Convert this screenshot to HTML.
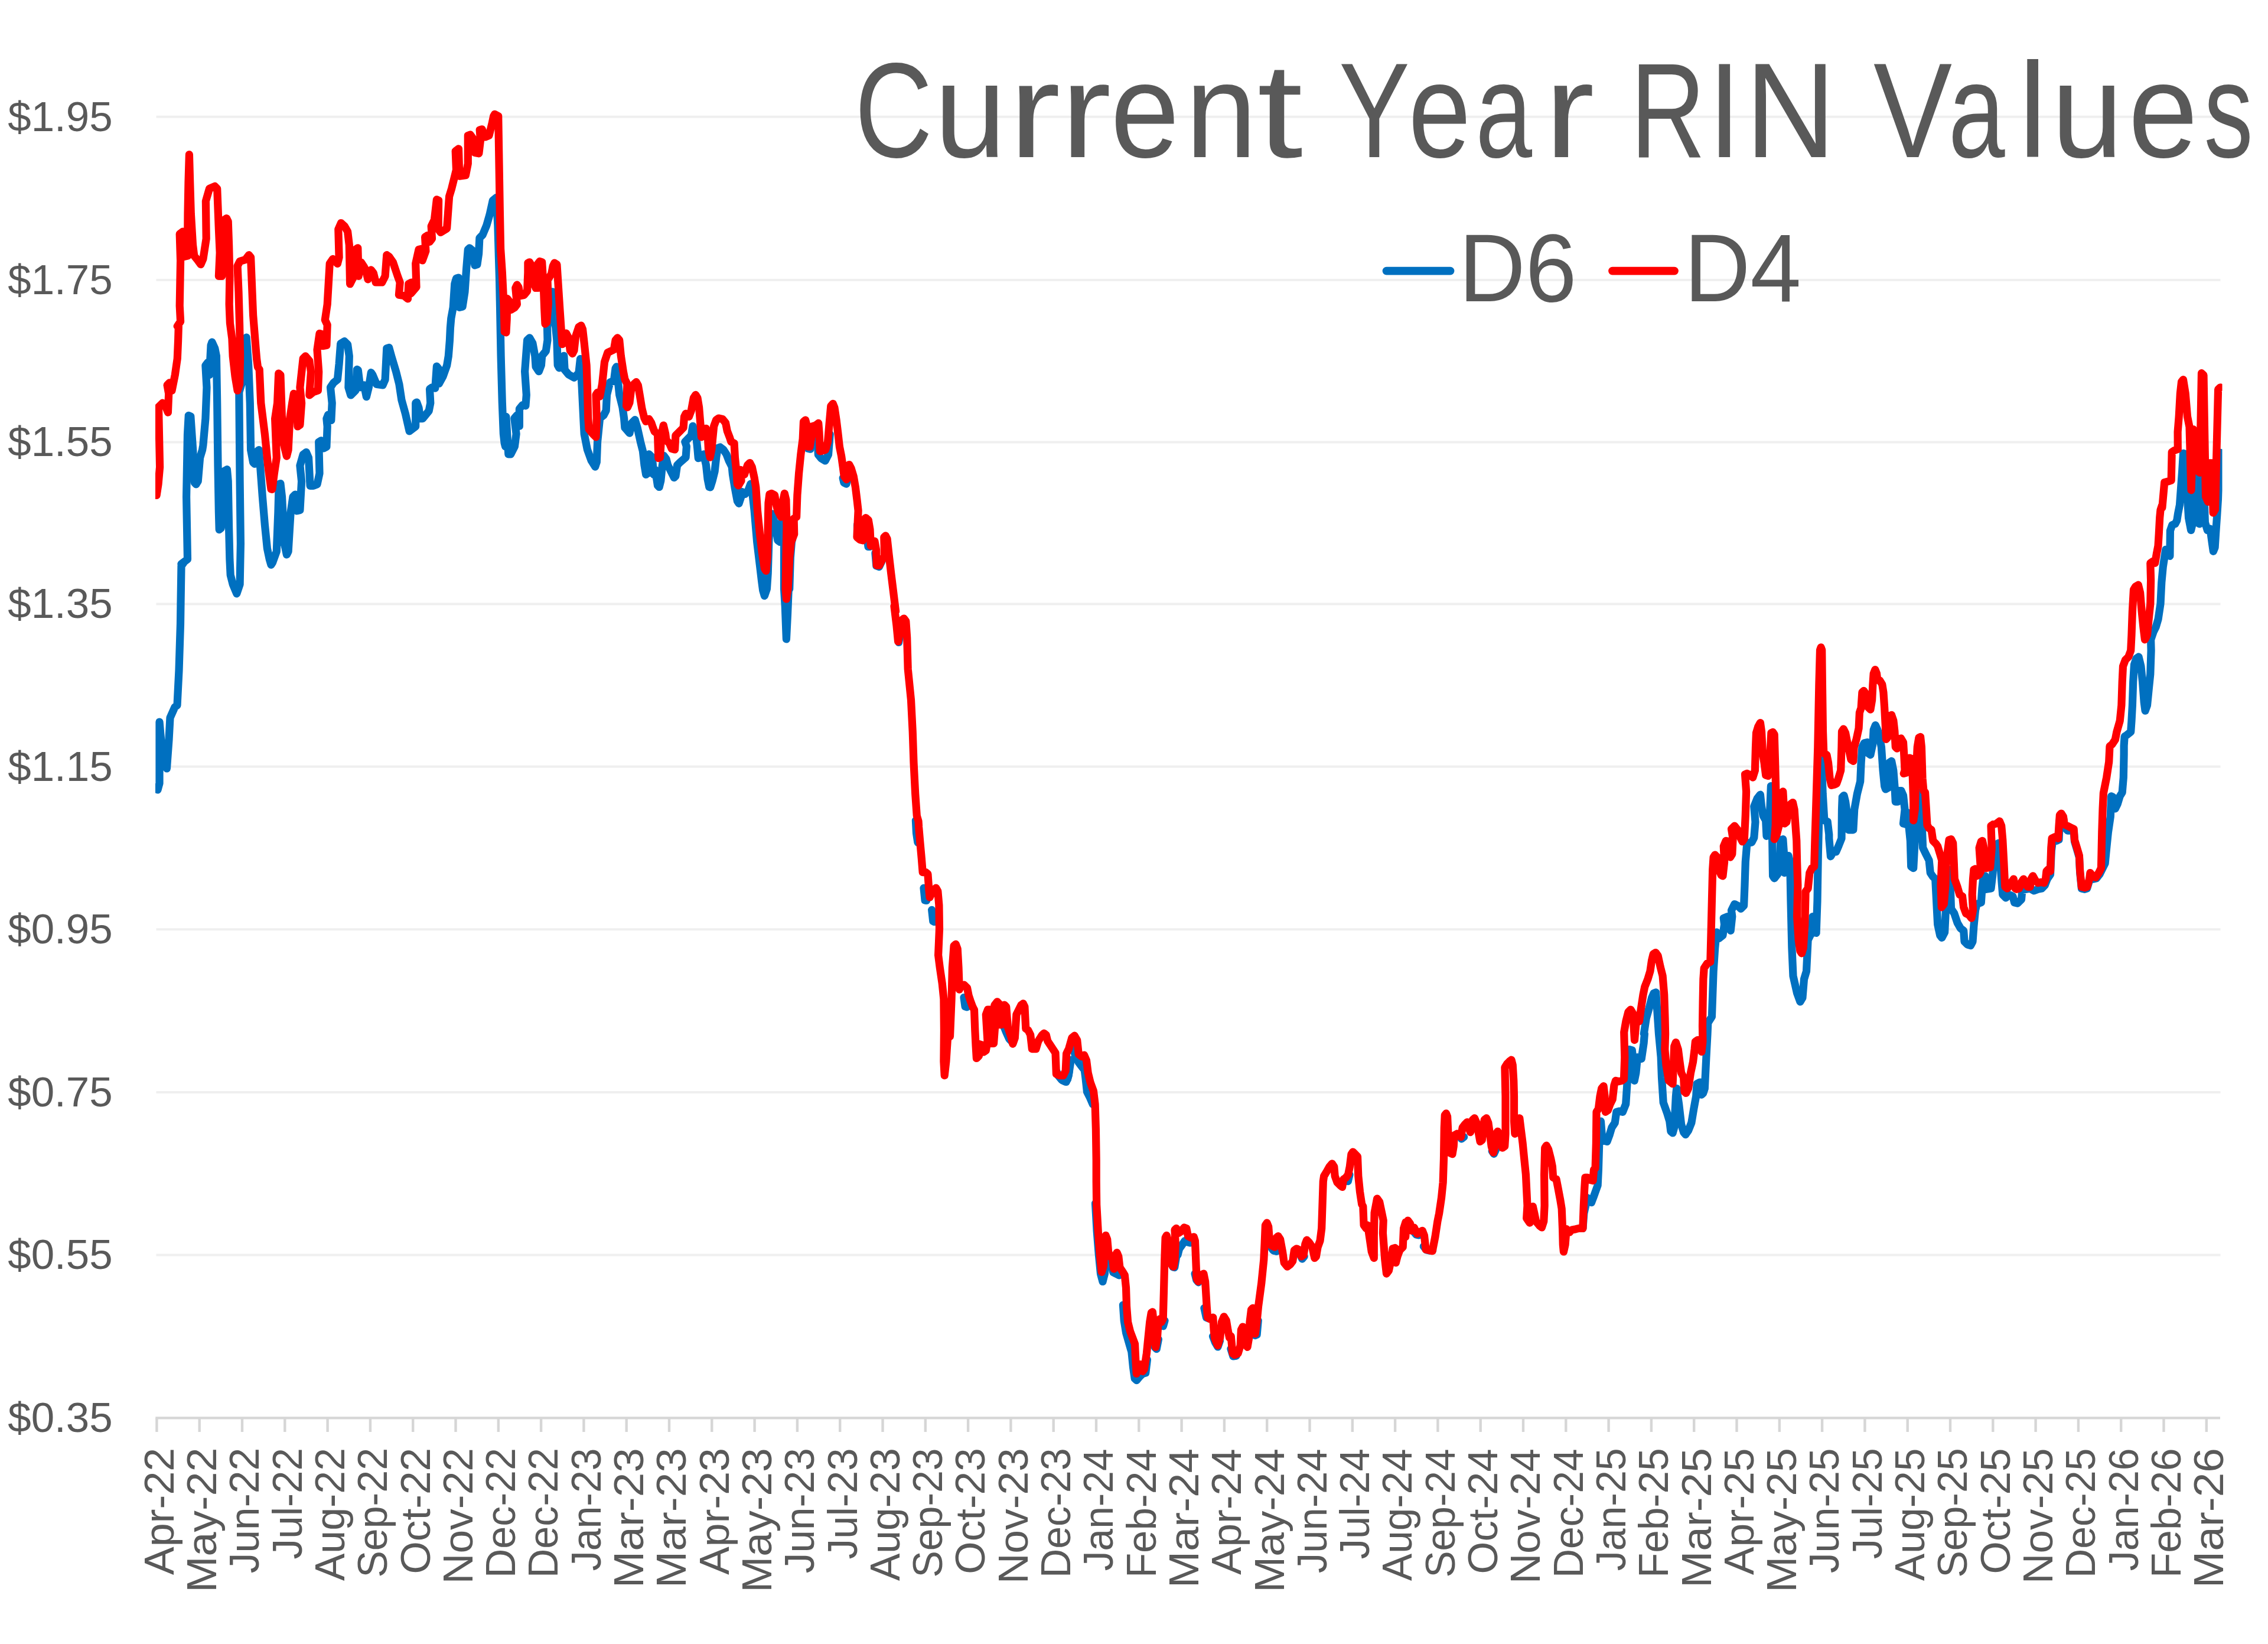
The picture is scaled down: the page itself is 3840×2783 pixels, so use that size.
<!DOCTYPE html><html><head><meta charset="utf-8"><title>Current Year RIN Values</title>
<style>html,body{margin:0;padding:0;background:#fff}svg{display:block}text{font-family:"Liberation Sans",sans-serif;fill:#595959}</style></head><body>
<svg width="3840" height="2783" viewBox="0 0 3840 2783">
<rect width="3840" height="2783" fill="#fff"/>
<line x1="264.5" x2="3759.5" y1="197.7" y2="197.7" stroke="#efefef" stroke-width="3.9"/>
<line x1="264.5" x2="3759.5" y1="474.0" y2="474.0" stroke="#efefef" stroke-width="3.9"/>
<line x1="264.5" x2="3759.5" y1="748.5" y2="748.5" stroke="#efefef" stroke-width="3.9"/>
<line x1="264.5" x2="3759.5" y1="1022.5" y2="1022.5" stroke="#efefef" stroke-width="3.9"/>
<line x1="264.5" x2="3759.5" y1="1297.7" y2="1297.7" stroke="#efefef" stroke-width="3.9"/>
<line x1="264.5" x2="3759.5" y1="1573.2" y2="1573.2" stroke="#efefef" stroke-width="3.9"/>
<line x1="264.5" x2="3759.5" y1="1849.0" y2="1849.0" stroke="#efefef" stroke-width="3.9"/>
<line x1="264.5" x2="3759.5" y1="2124.5" y2="2124.5" stroke="#efefef" stroke-width="3.9"/>
<text transform="translate(1447.30,266.00) scale(0.7996,1)" font-size="228">C</text>
<text transform="translate(1582.24,266.00) scale(0.9556,1)" font-size="228">u</text>
<text transform="translate(1708.21,266.00) scale(1.1491,1)" font-size="228">r</text>
<text transform="translate(1795.72,266.00) scale(1.1281,1)" font-size="228">r</text>
<text transform="translate(1880.20,266.00) scale(0.9192,1)" font-size="228">e</text>
<text transform="translate(2007.02,266.00) scale(0.9556,1)" font-size="228">n</text>
<text transform="translate(2128.63,266.00) scale(1.2198,1)" font-size="228">t</text>
<text transform="translate(2267.04,266.00) scale(0.7885,1)" font-size="228">Y</text>
<text transform="translate(2384.61,266.00) scale(0.8343,1)" font-size="228">e</text>
<text transform="translate(2498.27,266.00) scale(0.7552,1)" font-size="228">a</text>
<text transform="translate(2615.04,266.00) scale(1.1140,1)" font-size="228">r</text>
<text transform="translate(2760.58,266.00) scale(0.7714,1)" font-size="228">R</text>
<text transform="translate(2892.10,266.00) scale(0.8772,1)" font-size="228">I</text>
<text transform="translate(2954.93,266.00) scale(0.9290,1)" font-size="228">N</text>
<text transform="translate(3172.00,266.00) scale(0.8759,1)" font-size="228">V</text>
<text transform="translate(3298.76,266.00) scale(0.7560,1)" font-size="228">a</text>
<text transform="translate(3418.06,266.00) scale(0.9320,1)" font-size="228">l</text>
<text transform="translate(3473.55,266.00) scale(0.9546,1)" font-size="228">u</text>
<text transform="translate(3603.61,266.00) scale(0.9285,1)" font-size="228">e</text>
<text transform="translate(3731.54,266.00) scale(0.7303,1)" font-size="228">s</text>
<line x1="2347.5" x2="2455.5" y1="458.6" y2="458.6" stroke="#0070c0" stroke-width="13.8" stroke-linecap="round"/>
<text transform="translate(2469.89,510.00) scale(0.9551,1)" font-size="163.5">D6</text>
<line x1="2730" x2="2835" y1="458.6" y2="458.6" stroke="#ff0000" stroke-width="13.8" stroke-linecap="round"/>
<text transform="translate(2851.71,510.00) scale(0.9465,1)" font-size="163.5">D4</text>
<line x1="263.3" x2="3759" y1="2400.4" y2="2400.4" stroke="#d6d6d6" stroke-width="4.4"/>
<line x1="265.4" x2="265.4" y1="2400.4" y2="2424.0" stroke="#d6d6d6" stroke-width="4.4"/>
<line x1="337.7" x2="337.7" y1="2400.4" y2="2424.0" stroke="#d6d6d6" stroke-width="4.4"/>
<line x1="410.0" x2="410.0" y1="2400.4" y2="2424.0" stroke="#d6d6d6" stroke-width="4.4"/>
<line x1="482.3" x2="482.3" y1="2400.4" y2="2424.0" stroke="#d6d6d6" stroke-width="4.4"/>
<line x1="554.6" x2="554.6" y1="2400.4" y2="2424.0" stroke="#d6d6d6" stroke-width="4.4"/>
<line x1="626.9" x2="626.9" y1="2400.4" y2="2424.0" stroke="#d6d6d6" stroke-width="4.4"/>
<line x1="699.2" x2="699.2" y1="2400.4" y2="2424.0" stroke="#d6d6d6" stroke-width="4.4"/>
<line x1="771.5" x2="771.5" y1="2400.4" y2="2424.0" stroke="#d6d6d6" stroke-width="4.4"/>
<line x1="843.8" x2="843.8" y1="2400.4" y2="2424.0" stroke="#d6d6d6" stroke-width="4.4"/>
<line x1="916.1" x2="916.1" y1="2400.4" y2="2424.0" stroke="#d6d6d6" stroke-width="4.4"/>
<line x1="988.4" x2="988.4" y1="2400.4" y2="2424.0" stroke="#d6d6d6" stroke-width="4.4"/>
<line x1="1060.7" x2="1060.7" y1="2400.4" y2="2424.0" stroke="#d6d6d6" stroke-width="4.4"/>
<line x1="1133.0" x2="1133.0" y1="2400.4" y2="2424.0" stroke="#d6d6d6" stroke-width="4.4"/>
<line x1="1205.3" x2="1205.3" y1="2400.4" y2="2424.0" stroke="#d6d6d6" stroke-width="4.4"/>
<line x1="1277.6" x2="1277.6" y1="2400.4" y2="2424.0" stroke="#d6d6d6" stroke-width="4.4"/>
<line x1="1349.9" x2="1349.9" y1="2400.4" y2="2424.0" stroke="#d6d6d6" stroke-width="4.4"/>
<line x1="1422.2" x2="1422.2" y1="2400.4" y2="2424.0" stroke="#d6d6d6" stroke-width="4.4"/>
<line x1="1494.5" x2="1494.5" y1="2400.4" y2="2424.0" stroke="#d6d6d6" stroke-width="4.4"/>
<line x1="1566.8" x2="1566.8" y1="2400.4" y2="2424.0" stroke="#d6d6d6" stroke-width="4.4"/>
<line x1="1639.1" x2="1639.1" y1="2400.4" y2="2424.0" stroke="#d6d6d6" stroke-width="4.4"/>
<line x1="1711.4" x2="1711.4" y1="2400.4" y2="2424.0" stroke="#d6d6d6" stroke-width="4.4"/>
<line x1="1783.7" x2="1783.7" y1="2400.4" y2="2424.0" stroke="#d6d6d6" stroke-width="4.4"/>
<line x1="1856.0" x2="1856.0" y1="2400.4" y2="2424.0" stroke="#d6d6d6" stroke-width="4.4"/>
<line x1="1928.3" x2="1928.3" y1="2400.4" y2="2424.0" stroke="#d6d6d6" stroke-width="4.4"/>
<line x1="2000.6" x2="2000.6" y1="2400.4" y2="2424.0" stroke="#d6d6d6" stroke-width="4.4"/>
<line x1="2072.9" x2="2072.9" y1="2400.4" y2="2424.0" stroke="#d6d6d6" stroke-width="4.4"/>
<line x1="2145.2" x2="2145.2" y1="2400.4" y2="2424.0" stroke="#d6d6d6" stroke-width="4.4"/>
<line x1="2217.5" x2="2217.5" y1="2400.4" y2="2424.0" stroke="#d6d6d6" stroke-width="4.4"/>
<line x1="2289.8" x2="2289.8" y1="2400.4" y2="2424.0" stroke="#d6d6d6" stroke-width="4.4"/>
<line x1="2362.1" x2="2362.1" y1="2400.4" y2="2424.0" stroke="#d6d6d6" stroke-width="4.4"/>
<line x1="2434.4" x2="2434.4" y1="2400.4" y2="2424.0" stroke="#d6d6d6" stroke-width="4.4"/>
<line x1="2506.7" x2="2506.7" y1="2400.4" y2="2424.0" stroke="#d6d6d6" stroke-width="4.4"/>
<line x1="2579.0" x2="2579.0" y1="2400.4" y2="2424.0" stroke="#d6d6d6" stroke-width="4.4"/>
<line x1="2651.3" x2="2651.3" y1="2400.4" y2="2424.0" stroke="#d6d6d6" stroke-width="4.4"/>
<line x1="2723.6" x2="2723.6" y1="2400.4" y2="2424.0" stroke="#d6d6d6" stroke-width="4.4"/>
<line x1="2795.9" x2="2795.9" y1="2400.4" y2="2424.0" stroke="#d6d6d6" stroke-width="4.4"/>
<line x1="2868.2" x2="2868.2" y1="2400.4" y2="2424.0" stroke="#d6d6d6" stroke-width="4.4"/>
<line x1="2940.5" x2="2940.5" y1="2400.4" y2="2424.0" stroke="#d6d6d6" stroke-width="4.4"/>
<line x1="3012.8" x2="3012.8" y1="2400.4" y2="2424.0" stroke="#d6d6d6" stroke-width="4.4"/>
<line x1="3085.1" x2="3085.1" y1="2400.4" y2="2424.0" stroke="#d6d6d6" stroke-width="4.4"/>
<line x1="3157.4" x2="3157.4" y1="2400.4" y2="2424.0" stroke="#d6d6d6" stroke-width="4.4"/>
<line x1="3229.7" x2="3229.7" y1="2400.4" y2="2424.0" stroke="#d6d6d6" stroke-width="4.4"/>
<line x1="3302.0" x2="3302.0" y1="2400.4" y2="2424.0" stroke="#d6d6d6" stroke-width="4.4"/>
<line x1="3374.3" x2="3374.3" y1="2400.4" y2="2424.0" stroke="#d6d6d6" stroke-width="4.4"/>
<line x1="3446.6" x2="3446.6" y1="2400.4" y2="2424.0" stroke="#d6d6d6" stroke-width="4.4"/>
<line x1="3518.9" x2="3518.9" y1="2400.4" y2="2424.0" stroke="#d6d6d6" stroke-width="4.4"/>
<line x1="3591.2" x2="3591.2" y1="2400.4" y2="2424.0" stroke="#d6d6d6" stroke-width="4.4"/>
<line x1="3663.5" x2="3663.5" y1="2400.4" y2="2424.0" stroke="#d6d6d6" stroke-width="4.4"/>
<line x1="3735.8" x2="3735.8" y1="2400.4" y2="2424.0" stroke="#d6d6d6" stroke-width="4.4"/>
<text transform="translate(13.22,221.50) scale(1.0132,1)" font-size="70">$1.95</text>
<text transform="translate(13.22,497.80) scale(1.0132,1)" font-size="70">$1.75</text>
<text transform="translate(13.22,772.30) scale(1.0132,1)" font-size="70">$1.55</text>
<text transform="translate(13.22,1046.30) scale(1.0132,1)" font-size="70">$1.35</text>
<text transform="translate(13.22,1321.50) scale(1.0132,1)" font-size="70">$1.15</text>
<text transform="translate(13.22,1597.00) scale(1.0132,1)" font-size="70">$0.95</text>
<text transform="translate(13.22,1872.80) scale(1.0132,1)" font-size="70">$0.75</text>
<text transform="translate(13.22,2148.30) scale(1.0132,1)" font-size="70">$0.55</text>
<text transform="translate(13.22,2424.20) scale(1.0132,1)" font-size="70">$0.35</text>
<text transform="translate(293.7,2450.8) rotate(-90) scale(1.0250,1)" text-anchor="end" font-size="70">Apr-22</text>
<text transform="translate(366.0,2450.7) rotate(-90) scale(1.0502,1)" text-anchor="end" font-size="70">May-22</text>
<text transform="translate(438.3,2450.9) rotate(-90) scale(0.9920,1)" text-anchor="end" font-size="70">Jun-22</text>
<text transform="translate(510.6,2451.0) rotate(-90) scale(0.9884,1)" text-anchor="end" font-size="70">Jul-22</text>
<text transform="translate(582.9,2450.9) rotate(-90) scale(0.9985,1)" text-anchor="end" font-size="70">Aug-22</text>
<text transform="translate(655.2,2451.0) rotate(-90) scale(0.9728,1)" text-anchor="end" font-size="70">Sep-22</text>
<text transform="translate(727.5,2450.8) rotate(-90) scale(1.0178,1)" text-anchor="end" font-size="70">Oct-22</text>
<text transform="translate(799.8,2450.9) rotate(-90) scale(1.0206,1)" text-anchor="end" font-size="70">Nov-22</text>
<text transform="translate(872.1,2451.0) rotate(-90) scale(0.9749,1)" text-anchor="end" font-size="70">Dec-22</text>
<text transform="translate(944.4,2451.0) rotate(-90) scale(0.9749,1)" text-anchor="end" font-size="70">Dec-22</text>
<text transform="translate(1016.7,2451.4) rotate(-90) scale(0.9714,1)" text-anchor="end" font-size="70">Jan-23</text>
<text transform="translate(1089.0,2451.1) rotate(-90) scale(1.0692,1)" text-anchor="end" font-size="70">Mar-23</text>
<text transform="translate(1161.3,2451.1) rotate(-90) scale(1.0692,1)" text-anchor="end" font-size="70">Mar-23</text>
<text transform="translate(1233.6,2451.2) rotate(-90) scale(1.0230,1)" text-anchor="end" font-size="70">Apr-23</text>
<text transform="translate(1305.9,2451.1) rotate(-90) scale(1.0483,1)" text-anchor="end" font-size="70">May-23</text>
<text transform="translate(1378.2,2451.3) rotate(-90) scale(0.9900,1)" text-anchor="end" font-size="70">Jun-23</text>
<text transform="translate(1450.5,2451.4) rotate(-90) scale(0.9862,1)" text-anchor="end" font-size="70">Jul-23</text>
<text transform="translate(1522.8,2451.3) rotate(-90) scale(0.9966,1)" text-anchor="end" font-size="70">Aug-23</text>
<text transform="translate(1595.1,2451.4) rotate(-90) scale(0.9709,1)" text-anchor="end" font-size="70">Sep-23</text>
<text transform="translate(1667.4,2451.3) rotate(-90) scale(1.0157,1)" text-anchor="end" font-size="70">Oct-23</text>
<text transform="translate(1739.7,2451.3) rotate(-90) scale(1.0186,1)" text-anchor="end" font-size="70">Nov-23</text>
<text transform="translate(1812.0,2451.4) rotate(-90) scale(0.9730,1)" text-anchor="end" font-size="70">Dec-23</text>
<text transform="translate(1884.3,2452.4) rotate(-90) scale(0.9666,1)" text-anchor="end" font-size="70">Jan-24</text>
<text transform="translate(1956.6,2452.4) rotate(-90) scale(0.9860,1)" text-anchor="end" font-size="70">Feb-24</text>
<text transform="translate(2028.9,2452.2) rotate(-90) scale(1.0639,1)" text-anchor="end" font-size="70">Mar-24</text>
<text transform="translate(2101.2,2452.3) rotate(-90) scale(1.0178,1)" text-anchor="end" font-size="70">Apr-24</text>
<text transform="translate(2173.5,2452.2) rotate(-90) scale(1.0434,1)" text-anchor="end" font-size="70">May-24</text>
<text transform="translate(2245.8,2452.4) rotate(-90) scale(0.9851,1)" text-anchor="end" font-size="70">Jun-24</text>
<text transform="translate(2318.1,2452.4) rotate(-90) scale(0.9806,1)" text-anchor="end" font-size="70">Jul-24</text>
<text transform="translate(2390.4,2452.3) rotate(-90) scale(0.9919,1)" text-anchor="end" font-size="70">Aug-24</text>
<text transform="translate(2462.7,2452.4) rotate(-90) scale(0.9663,1)" text-anchor="end" font-size="70">Sep-24</text>
<text transform="translate(2535.0,2452.3) rotate(-90) scale(1.0105,1)" text-anchor="end" font-size="70">Oct-24</text>
<text transform="translate(2607.3,2452.4) rotate(-90) scale(1.0137,1)" text-anchor="end" font-size="70">Nov-24</text>
<text transform="translate(2679.6,2452.5) rotate(-90) scale(0.9683,1)" text-anchor="end" font-size="70">Dec-24</text>
<text transform="translate(2751.9,2451.5) rotate(-90) scale(0.9708,1)" text-anchor="end" font-size="70">Jan-25</text>
<text transform="translate(2824.2,2451.5) rotate(-90) scale(0.9902,1)" text-anchor="end" font-size="70">Feb-25</text>
<text transform="translate(2896.5,2451.2) rotate(-90) scale(1.0685,1)" text-anchor="end" font-size="70">Mar-25</text>
<text transform="translate(2968.8,2451.4) rotate(-90) scale(1.0223,1)" text-anchor="end" font-size="70">Apr-25</text>
<text transform="translate(3041.1,2451.3) rotate(-90) scale(1.0476,1)" text-anchor="end" font-size="70">May-25</text>
<text transform="translate(3113.4,2451.4) rotate(-90) scale(0.9894,1)" text-anchor="end" font-size="70">Jun-25</text>
<text transform="translate(3185.7,2451.5) rotate(-90) scale(0.9854,1)" text-anchor="end" font-size="70">Jul-25</text>
<text transform="translate(3258.0,2451.4) rotate(-90) scale(0.9960,1)" text-anchor="end" font-size="70">Aug-25</text>
<text transform="translate(3330.3,2451.5) rotate(-90) scale(0.9703,1)" text-anchor="end" font-size="70">Sep-25</text>
<text transform="translate(3402.6,2451.4) rotate(-90) scale(1.0150,1)" text-anchor="end" font-size="70">Oct-25</text>
<text transform="translate(3474.9,2451.4) rotate(-90) scale(1.0180,1)" text-anchor="end" font-size="70">Nov-25</text>
<text transform="translate(3547.2,2451.6) rotate(-90) scale(0.9724,1)" text-anchor="end" font-size="70">Dec-25</text>
<text transform="translate(3619.5,2451.4) rotate(-90) scale(0.9714,1)" text-anchor="end" font-size="70">Jan-26</text>
<text transform="translate(3691.8,2451.3) rotate(-90) scale(0.9909,1)" text-anchor="end" font-size="70">Feb-26</text>
<text transform="translate(3764.1,2451.1) rotate(-90) scale(1.0692,1)" text-anchor="end" font-size="70">Mar-26</text>
<clipPath id="pc"><rect x="263" y="0" width="3499.5" height="2402"/></clipPath><g clip-path="url(#pc)">
<polyline fill="none" stroke="#0070c0" stroke-width="13.2" stroke-linejoin="round" stroke-linecap="round" points="267.0,1337.0 270.0,1326.0 270.0,1222.0 276.0,1290.0 282.4,1301.0 286.0,1252.0 288.0,1215.0 296.0,1197.0 300.0,1194.0 303.0,1135.0 305.5,1056.0 306.0,1021.0 307.0,958.0 311.0,952.6 306.9,954.8 312.2,950.8 317.5,946.8 315.6,841.0 317.5,735.2 319.3,703.4 322.8,704.8 326.7,761.6 329.4,817.2 332.0,819.8 335.2,814.6 338.6,774.9 342.6,761.6 343.9,753.7 347.9,708.7 350.0,655.8 347.9,618.8 351.9,613.5 354.5,634.7 357.1,584.4 359.0,579.1 363.8,589.7 366.4,602.9 367.7,682.3 369.0,788.1 370.4,867.5 371.2,896.6 374.3,893.9 377.0,814.6 379.6,797.4 384.4,794.7 386.2,814.6 387.6,893.9 388.9,946.8 390.2,973.3 394.2,989.2 400.8,1005.0 406.1,989.2 407.4,920.4 406.1,814.6 404.8,663.8 412.7,637.3 415.3,575.1 417.2,571.2 420.6,616.1 423.3,682.3 424.6,761.6 428.6,782.8 431.2,785.4 435.2,764.3 438.4,761.6 440.5,788.1 444.4,841.0 448.4,888.6 452.4,928.3 456.3,946.8 459.0,956.1 461.6,952.1 468.3,933.6 470.9,867.5 472.2,819.8 474.9,818.5 477.5,841.0 481.5,920.4 485.4,938.9 488.1,933.6 492.1,867.5 496.0,841.0 500.0,837.0 502.6,864.8 507.9,863.5 510.6,814.6 507.9,788.1 513.2,769.6 518.5,765.6 522.5,774.9 525.1,822.5 530.4,822.5 537.0,819.8 541.0,801.3 539.7,748.4 543.7,745.8 547.6,759.0 552.9,756.3 554.2,722.0 552.9,708.7 555.6,702.1 560.8,711.4 562.2,682.3 559.5,655.8 564.8,647.9 571.4,642.6 574.1,616.1 576.7,581.7 583.3,577.8 588.6,583.1 591.3,602.9 589.9,655.8 593.9,669.0 601.9,661.1 604.5,625.4 606.3,626.7 609.8,655.8 616.4,651.9 620.4,671.7 624.3,655.8 628.3,630.7 631.0,634.7 637.6,650.5 648.1,651.9 652.1,642.6 654.8,589.7 658.7,588.4 662.7,602.9 670.6,629.4 675.9,650.5 679.9,677.0 686.5,700.8 693.1,729.9 703.7,722.0 703.7,682.3 705.6,681.0 709.0,690.2 711.6,708.7 715.6,708.7 726.2,695.5 728.8,682.3 727.5,658.5 731.5,655.8 736.8,657.1 739.4,620.1 742.6,624.1 743.4,649.2 750.0,637.3 756.6,618.8 759.3,602.9 761.4,576.5 762.4,555.3 763.8,538.9 767.2,520.4 769.8,480.7 772.5,471.4 776.5,470.1 777.8,520.4 783.1,519.0 787.0,493.9 789.7,454.2 792.3,422.5 795.0,419.8 800.0,424.0 804.0,449.1 807.9,447.8 810.6,429.3 811.9,402.8 817.2,397.5 823.8,381.6 829.1,363.1 834.4,339.3 840.2,334.6 842.9,381.6 844.4,434.6 845.5,470.0 846.6,522.9 848.1,602.3 850.3,681.6 852.4,734.6 854.2,750.4 855.6,755.7 856.9,705.4 860.8,768.9 864.8,768.9 871.4,755.7 874.1,734.6 870.9,708.1 875.4,702.8 879.4,721.3 879.4,692.2 884.7,685.6 889.9,686.9 891.3,668.4 888.6,628.7 892.6,575.8 896.6,571.9 901.9,581.1 905.8,602.3 907.1,620.8 912.4,628.7 916.4,618.1 917.7,602.3 924.3,594.3 927.0,575.8 926.5,554.7 932.3,517.6 934.9,493.8 938.9,536.1 942.9,575.8 944.2,618.1 946.8,622.9 952.1,620.8 954.8,602.3 956.1,626.1 962.7,634.0 972.0,639.3 979.9,631.4 982.5,607.6 985.2,655.2 987.8,708.1 989.2,734.6 994.4,761.0 1001.1,779.5 1007.7,790.1 1010.3,782.2 1011.6,747.8 1015.6,708.1 1022.2,702.8 1026.2,694.9 1027.5,668.4 1032.8,647.2 1039.4,644.6 1042.1,623.4 1043.9,620.8 1046.0,642.0 1048.7,668.4 1054.0,689.6 1056.6,708.1 1057.9,724.0 1065.9,733.2 1069.8,716.0 1075.1,710.7 1079.1,724.0 1084.4,747.8 1088.4,763.7 1091.0,787.5 1093.7,803.3 1100.3,798.0 1098.9,768.9 1104.2,774.2 1106.9,803.3 1109.5,795.4 1113.5,821.9 1116.1,824.5 1118.8,813.9 1121.4,787.5 1124.1,771.6 1128.0,776.9 1130.7,787.5 1136.0,798.0 1141.3,808.6 1143.9,806.0 1146.6,787.5 1151.9,782.2 1161.1,774.2 1162.4,755.7 1159.8,747.8 1165.1,742.5 1170.4,737.2 1173.0,721.3 1178.3,734.6 1181.0,761.0 1182.3,775.6 1187.6,774.2 1191.5,768.9 1195.5,787.5 1198.1,811.3 1200.8,824.5 1202.6,825.0 1206.1,813.9 1210.1,798.0 1212.7,774.2 1215.3,758.4 1219.3,757.0 1224.6,761.0 1229.9,768.9 1233.9,779.5 1239.2,790.1 1240.5,803.3 1244.4,827.1 1248.4,848.3 1251.1,852.3 1255.0,840.4 1256.3,832.4 1261.6,836.4 1266.9,829.8 1270.9,819.2 1272.7,824.9 1277.2,864.6 1281.7,917.5 1286.5,957.1 1289.6,983.6 1291.7,999.5 1294.4,1008.7 1298.4,996.8 1300.2,970.4 1301.8,917.5 1303.7,877.8 1307.6,869.8 1311.6,885.7 1314.2,898.9 1316.9,914.8 1320.8,917.5 1323.5,891.0 1324.8,864.6 1327.5,917.5 1327.5,996.8 1329.3,1026.5 1331.4,1082.0 1333.5,1039.7 1335.1,1000.0 1336.7,996.8 1338.3,943.9 1340.4,917.5 1343.6,904.2"/>
<polyline fill="none" stroke="#0070c0" stroke-width="13.2" stroke-linejoin="round" stroke-linecap="round" points="2679.9,2079.4 2681.8,2054.2 2687.6,2027.8 2694.5,2035.7 2698.5,2025.1 2705.1,2006.6 2706.4,1980.2 2707.7,1935.2 2710.4,1898.1 2713.0,1929.9 2721.0,1932.5 2724.9,1922.0 2728.9,1908.7 2734.2,1900.8 2736.8,1882.3 2742.1,1881.0 2747.4,1882.3 2752.7,1869.0 2755.3,1829.4 2758.0,1776.5 2763.3,1777.8 2765.9,1802.9 2767.2,1829.4 2769.9,1816.1 2772.5,1789.7 2779.2,1792.3 2783.1,1765.9 2784.4,1750.0 2783.3,1750.1 2787.3,1723.6 2792.6,1705.1 2796.6,1689.2 2800.0,1681.3 2803.7,1679.9 2805.8,1710.4 2808.5,1750.1 2812.2,1789.7 2813.5,1824.1 2816.2,1866.4 2822.8,1884.9 2826.8,1898.1 2828.9,1915.3 2832.1,1918.0 2834.7,1908.7 2837.4,1855.8 2838.7,1842.6 2842.6,1869.0 2846.6,1903.4 2850.6,1916.7 2853.8,1920.6 2858.5,1914.0 2863.8,1900.8 2867.8,1877.0 2871.7,1855.8 2873.1,1834.7 2878.4,1832.0 2881.0,1853.2 2883.7,1850.5 2886.3,1842.6 2888.9,1789.7 2891.0,1750.1 2891.8,1731.5 2898.4,1721.0 2899.7,1683.9 2901.1,1644.2 2903.7,1604.6 2906.3,1578.1 2910.3,1588.7 2916.9,1583.4 2919.6,1564.9 2918.3,1554.3 2924.9,1551.6 2930.2,1575.4 2932.8,1551.6 2931.5,1541.1 2936.8,1530.5 2942.1,1533.1 2947.4,1538.4 2952.6,1533.1 2954.0,1498.7 2955.3,1459.0 2957.9,1427.3 2965.9,1425.9 2969.8,1418.0 2972.0,1391.5 2969.8,1365.1 2975.1,1351.9 2980.4,1345.2 2982.5,1365.1 2985.2,1381.0 2989.7,1388.9 2991.0,1415.3 2993.7,1412.7 2996.8,1370.4 2998.4,1330.7 3000.3,1396.8 3001.6,1482.9 3004.2,1486.8 3009.5,1480.2 3013.5,1472.3 3014.8,1422.0 3018.8,1420.7 3020.6,1445.8 3021.4,1477.6 3025.4,1472.3 3028.0,1448.5 3030.7,1459.0 3032.0,1525.2 3033.9,1604.6 3036.0,1652.2 3042.6,1681.3 3047.9,1695.8 3051.9,1689.2 3054.5,1657.5 3058.5,1644.2 3061.1,1591.3 3067.7,1578.1 3069.0,1551.6 3071.7,1578.1 3075.1,1579.4 3077.0,1525.2 3078.3,1445.8 3079.6,1392.9 3081.0,1340.0 3082.3,1317.5 3084.1,1287.0 3086.2,1343.9 3088.9,1388.9 3094.2,1391.0 3096.8,1412.7 3096.8,1419.4 3099.5,1449.8 3104.8,1440.5 3108.7,1441.9 3112.7,1432.6 3118.0,1419.4 3118.5,1370.4 3119.3,1349.2 3122.0,1346.6 3124.6,1357.1 3127.2,1375.7 3129.9,1404.8 3137.8,1404.8 3139.7,1370.4 3144.4,1343.9 3149.7,1322.8 3151.1,1291.0 3152.9,1264.6 3156.3,1257.9 3161.6,1256.6 3163.0,1275.1 3166.9,1277.8 3170.9,1259.3 3172.2,1235.4 3175.4,1227.5 3178.8,1235.4 3182.0,1246.0 3185.4,1264.6 3188.1,1304.2 3190.7,1330.7 3192.6,1336.0 3197.4,1333.3 3198.7,1291.0 3202.6,1288.4 3205.8,1304.2 3207.9,1330.7 3209.3,1357.1 3213.2,1357.1 3214.6,1338.6 3219.0,1338.6 3222.5,1346.6 3225.1,1370.4 3222.5,1394.2 3227.8,1395.5 3229.1,1375.7 3231.7,1396.8 3234.4,1423.3 3235.7,1467.0 3239.7,1469.6 3242.3,1419.4 3247.6,1370.4 3248.9,1341.3 3251.6,1370.4 3254.2,1396.8 3255.6,1435.2 3260.8,1445.8 3266.1,1456.4 3268.3,1477.6 3272.8,1484.2 3276.7,1488.1 3280.7,1564.9 3284.7,1583.4 3287.8,1587.4 3292.6,1578.1 3295.2,1525.2 3300.0,1472.3 3296.9,1488.1 3302.2,1501.3 3303.5,1538.4 3308.8,1546.3 3314.1,1562.2 3319.4,1571.4 3324.7,1575.4 3326.0,1593.9 3331.3,1599.2 3336.6,1600.5 3340.0,1593.9 3341.9,1567.5 3344.5,1541.0 3347.1,1530.4 3354.3,1527.8 3355.9,1504.0 3357.7,1488.1 3361.2,1482.8 3363.0,1505.3 3371.0,1504.0 3373.6,1482.8 3376.2,1451.1 3378.9,1429.9 3384.2,1427.2 3386.8,1461.6 3388.7,1488.1 3390.8,1514.6 3396.1,1519.8 3401.9,1514.6 3408.0,1517.2 3410.6,1527.8 3415.9,1529.1 3422.5,1522.5 3423.9,1506.6 3430.5,1505.3 3437.1,1504.0 3443.7,1507.9 3450.3,1505.3 3456.9,1504.0 3462.2,1498.7 3466.2,1488.1 3471.5,1480.2 3473.3,1440.5 3475.4,1424.6 3482.1,1423.3 3486.0,1421.4 3487.4,1387.6 3490.0,1381.0 3493.4,1384.9 3496.1,1400.8 3500.6,1406.1 3505.9,1406.1 3511.2,1407.4 3512.5,1424.6 3516.5,1437.8 3520.4,1451.1 3521.7,1477.5 3524.4,1504.0 3529.7,1505.3 3533.7,1504.0 3537.6,1490.7 3539.5,1481.5 3544.2,1488.1 3549.5,1486.8 3554.8,1480.2 3560.1,1469.6 3564.1,1461.6 3566.7,1435.2 3569.4,1408.7 3573.3,1382.3 3574.7,1347.9 3577.3,1349.2 3581.3,1369.0 3585.2,1361.1 3589.2,1347.9 3593.2,1341.3 3595.3,1316.1 3596.1,1276.5 3596.1,1262.7 3597.1,1246.8 3601.1,1244.2 3607.7,1238.9 3609.0,1220.4 3610.4,1193.9 3611.7,1154.2 3613.5,1125.1 3617.0,1114.6 3621.0,1111.9 3624.9,1127.8 3627.6,1154.2 3630.2,1188.6 3632.1,1203.2 3635.5,1193.9 3638.1,1167.5 3640.8,1141.0 3642.1,1101.3 3641.6,1082.8 3646.1,1069.6 3650.1,1061.6 3654.0,1048.4 3658.0,1022.0 3659.3,995.5 3659.8,986.0 3662.2,959.8 3666.7,930.4 3670.4,936.5 3673.9,941.3 3674.4,898.4 3677.8,888.6 3682.9,886.8 3685.8,881.0 3687.6,869.3 3690.5,854.8 3694.7,797.0 3696.5,767.4 3700.0,768.5 3702.2,818.9 3705.6,876.5 3709.6,897.6 3713.5,881.7 3716.2,865.9 3716.6,807.9 3720.2,884.4 3724.1,887.0 3729.4,876.5 3727.5,810.1 3731.5,829.8 3733.4,884.4 3737.4,897.6 3742.1,895.0 3745.3,918.8 3747.4,933.3 3750.1,926.7 3751.6,902.9 3753.8,871.2 3757.1,818.9 3759.5,766.3"/>
<polyline fill="none" stroke="#0070c0" stroke-width="13.2" stroke-linejoin="round" stroke-linecap="round" points="1364.2,745.6 1368.1,759.4 1372.1,760.2 1374.8,745.6"/>
<polyline fill="none" stroke="#0070c0" stroke-width="13.2" stroke-linejoin="round" stroke-linecap="round" points="1384.0,729.8 1385.3,769.5 1390.6,776.1 1397.2,780.0 1402.5,769.5 1405.2,735.1"/>
<polyline fill="none" stroke="#0070c0" stroke-width="13.2" stroke-linejoin="round" stroke-linecap="round" points="1427.1,809.1 1429.0,817.1 1433.0,819.2 1435.6,809.1"/>
<polyline fill="none" stroke="#0070c0" stroke-width="13.2" stroke-linejoin="round" stroke-linecap="round" points="1451.5,888.5 1451.5,909.1 1456.8,912.8 1462.1,913.9 1463.4,888.5"/>
<polyline fill="none" stroke="#0070c0" stroke-width="13.2" stroke-linejoin="round" stroke-linecap="round" points="1467.3,901.7 1470.0,925.5 1472.6,925.5 1476.6,921.6"/>
<polyline fill="none" stroke="#0070c0" stroke-width="13.2" stroke-linejoin="round" stroke-linecap="round" points="1481.9,936.1 1483.8,957.8 1488.5,959.4 1493.3,949.4"/>
<polyline fill="none" stroke="#0070c0" stroke-width="13.2" stroke-linejoin="round" stroke-linecap="round" points="1518.9,1055.7 1521.6,1087.4 1525.6,1066.3"/>
<polyline fill="none" stroke="#0070c0" stroke-width="13.2" stroke-linejoin="round" stroke-linecap="round" points="1550.4,1389.0 1551.5,1410.2 1553.9,1426.1"/>
<polyline fill="none" stroke="#0070c0" stroke-width="13.2" stroke-linejoin="round" stroke-linecap="round" points="1552.9,1397.5 1555.0,1413.4"/>
<polyline fill="none" stroke="#0070c0" stroke-width="13.2" stroke-linejoin="round" stroke-linecap="round" points="1564.0,1503.3 1566.1,1524.0 1568.7,1524.5 1570.3,1511.3"/>
<polyline fill="none" stroke="#0070c0" stroke-width="13.2" stroke-linejoin="round" stroke-linecap="round" points="1577.7,1540.4 1579.8,1559.4 1582.0,1560.5 1583.5,1550.9"/>
<polyline fill="none" stroke="#0070c0" stroke-width="13.2" stroke-linejoin="round" stroke-linecap="round" points="1632.0,1688.5 1634.1,1703.8 1637.0,1704.9 1639.9,1699.1"/>
<polyline fill="none" stroke="#0070c0" stroke-width="13.2" stroke-linejoin="round" stroke-linecap="round" points="1698.1,1733.5 1703.4,1746.7 1708.7,1758.6 1712.6,1762.6"/>
<polyline fill="none" stroke="#0070c0" stroke-width="13.2" stroke-linejoin="round" stroke-linecap="round" points="1789.4,1818.1 1797.3,1827.4 1805.2,1831.4 1809.2,1820.8 1813.2,1794.3"/>
<polyline fill="none" stroke="#0070c0" stroke-width="13.2" stroke-linejoin="round" stroke-linecap="round" points="1819.8,1767.9 1822.4,1791.7 1829.0,1800.9 1833.0,1804.9"/>
<polyline fill="none" stroke="#0070c0" stroke-width="13.2" stroke-linejoin="round" stroke-linecap="round" points="1788.9,1813.9 1792.9,1821.8 1798.2,1828.5 1803.5,1831.1 1807.5,1827.1 1810.1,1813.9"/>
<polyline fill="none" stroke="#0070c0" stroke-width="13.2" stroke-linejoin="round" stroke-linecap="round" points="1818.0,1776.9 1820.7,1787.4 1826.0,1798.0 1829.9,1803.3 1833.9,1808.6"/>
<polyline fill="none" stroke="#0070c0" stroke-width="13.2" stroke-linejoin="round" stroke-linecap="round" points="1835.2,1803.3 1837.9,1824.5 1840.5,1848.3 1845.8,1858.9 1850.3,1869.5"/>
<polyline fill="none" stroke="#0070c0" stroke-width="13.2" stroke-linejoin="round" stroke-linecap="round" points="2151.4,2110.2 2155.3,2116.0 2160.6,2118.1 2163.3,2104.9"/>
<polyline fill="none" stroke="#0070c0" stroke-width="13.2" stroke-linejoin="round" stroke-linecap="round" points="2278.4,1996.4 2282.3,1999.6 2285.0,1988.5"/>
<polyline fill="none" stroke="#0070c0" stroke-width="13.2" stroke-linejoin="round" stroke-linecap="round" points="1854.5,2037.2 1857.2,2084.8 1860.4,2124.5 1863.5,2156.2 1867.0,2169.5 1870.4,2156.2 1872.3,2124.5"/>
<polyline fill="none" stroke="#0070c0" stroke-width="13.2" stroke-linejoin="round" stroke-linecap="round" points="1879.4,2129.8 1884.7,2153.6 1889.5,2156.2 1894.8,2158.9 1898.7,2156.2"/>
<polyline fill="none" stroke="#0070c0" stroke-width="13.2" stroke-linejoin="round" stroke-linecap="round" points="1901.4,2209.1 1903.2,2235.6 1906.7,2256.8 1912.0,2275.3 1915.9,2288.5 1918.6,2315.0 1921.2,2333.5 1924.4,2336.7 1929.1,2330.8 1934.4,2325.5 1939.7,2324.2 1942.4,2301.7"/>
<polyline fill="none" stroke="#0070c0" stroke-width="13.2" stroke-linejoin="round" stroke-linecap="round" points="1953.0,2262.1 1955.1,2280.6 1958.2,2283.7 1961.4,2267.3"/>
<polyline fill="none" stroke="#0070c0" stroke-width="13.2" stroke-linejoin="round" stroke-linecap="round" points="1966.2,2235.6 1969.4,2244.9 1972.0,2235.6"/>
<polyline fill="none" stroke="#0070c0" stroke-width="13.2" stroke-linejoin="round" stroke-linecap="round" points="1981.5,2135.1 1986.0,2145.1 1988.7,2145.6 1991.3,2129.8"/>
<polyline fill="none" stroke="#0070c0" stroke-width="13.2" stroke-linejoin="round" stroke-linecap="round" points="1994.0,2124.5 1996.6,2113.9 2000.6,2108.6 2005.9,2100.7 2011.2,2102.8 2015.1,2103.8 2019.1,2098.0"/>
<polyline fill="none" stroke="#0070c0" stroke-width="13.2" stroke-linejoin="round" stroke-linecap="round" points="2023.1,2156.2 2025.7,2166.8 2029.1,2170.8 2032.3,2161.5"/>
<polyline fill="none" stroke="#0070c0" stroke-width="13.2" stroke-linejoin="round" stroke-linecap="round" points="2038.9,2214.4 2042.4,2230.3 2045.6,2231.6"/>
<polyline fill="none" stroke="#0070c0" stroke-width="13.2" stroke-linejoin="round" stroke-linecap="round" points="2053.5,2262.1 2057.5,2272.6 2062.0,2280.0 2065.4,2270.0"/>
<polyline fill="none" stroke="#0070c0" stroke-width="13.2" stroke-linejoin="round" stroke-linecap="round" points="2083.9,2283.2 2087.9,2295.9 2093.2,2295.1"/>
<polyline fill="none" stroke="#0070c0" stroke-width="13.2" stroke-linejoin="round" stroke-linecap="round" points="2120.9,2248.8 2124.9,2260.7 2128.1,2259.4 2130.2,2235.6"/>
<polyline fill="none" stroke="#0070c0" stroke-width="13.2" stroke-linejoin="round" stroke-linecap="round" points="2151.4,2108.6 2156.7,2117.1 2162.0,2117.9 2164.1,2103.3"/>
<polyline fill="none" stroke="#0070c0" stroke-width="13.2" stroke-linejoin="round" stroke-linecap="round" points="2201.6,2124.5 2204.8,2131.1 2208.2,2127.1"/>
<polyline fill="none" stroke="#0070c0" stroke-width="13.2" stroke-linejoin="round" stroke-linecap="round" points="2472.0,1924.7 2474.6,1927.9 2478.6,1924.7"/>
<polyline fill="none" stroke="#0070c0" stroke-width="13.2" stroke-linejoin="round" stroke-linecap="round" points="2526.2,1948.6 2529.4,1953.3 2532.8,1945.9"/>
<polyline fill="none" stroke="#0070c0" stroke-width="13.2" stroke-linejoin="round" stroke-linecap="round" points="2410.3,2109.9 2415.1,2115.8 2420.4,2117.1 2425.7,2116.5"/>
<polyline fill="none" stroke="#0070c0" stroke-width="13.2" stroke-linejoin="round" stroke-linecap="round" points="2392.6,2083.5 2397.9,2090.1 2402.4,2090.9"/>
<polyline fill="none" stroke="#ff0000" stroke-width="13.2" stroke-linejoin="round" stroke-linecap="round" points="265.1,838.4 268.0,819.8 270.6,790.7 268.5,688.9 275.1,682.3 279.1,684.9 284.4,698.1 285.7,666.4 283.1,651.9 287.0,647.9 291.0,661.1 296.3,634.7 300.3,606.9 301.6,576.5 302.4,550.0 300.3,552.1 305.6,544.2 304.2,517.7 305.6,441.0 304.2,396.0 309.5,392.1 312.2,434.4 317.5,433.1 318.0,361.6 319.0,308.7 320.4,261.6 321.7,308.7 323.3,361.6 326.5,414.6 328.8,433.1 334.1,439.7 339.9,447.6 343.9,438.4 349.2,404.0 348.4,340.5 354.5,319.3 363.8,315.3 367.7,319.3 370.4,388.1 372.2,427.8 370.4,467.5 375.7,467.5 379.6,372.2 383.6,369.6 386.2,374.9 387.6,414.6 388.9,467.5 388.1,515.1 389.4,546.8 392.9,573.3 394.2,602.9 398.1,637.3 402.1,661.1 405.6,650.5 406.6,602.9 405.6,550.0 404.0,493.9 402.1,450.3 406.1,442.3 415.3,439.7 421.4,431.7 424.6,435.7 425.9,467.5 428.6,533.6 433.1,589.7 434.7,608.2 436.5,621.4 439.2,625.4 441.8,682.3 448.4,735.2 453.7,788.1 459.0,827.8 460.8,828.3 464.3,801.3 468.3,774.9 465.6,708.7 469.6,682.3 471.7,632.0 474.9,634.7 477.5,708.7 480.2,751.1 485.4,772.2 488.1,761.6 490.7,708.7 494.7,682.3 497.4,666.4 501.3,667.7 504.0,722.0 507.9,719.3 510.6,682.3 507.9,655.8 513.2,606.9 517.2,602.9 523.8,610.8 526.5,629.4 523.8,669.0 530.4,663.8 538.4,661.1 539.7,629.4 537.0,592.3 541.0,564.6 545.0,565.9 546.3,585.7 552.9,584.4 554.2,550.0 550.3,541.5 554.2,515.1 558.2,446.3 563.5,438.4 571.4,446.3 574.1,435.7 572.8,388.1 577.5,377.5 583.3,382.8 588.6,392.1 591.3,414.6 592.6,480.7 599.2,467.5 601.9,422.5 605.8,419.8 607.1,467.5 611.1,443.7 616.4,451.6 619.0,456.9 623.0,472.8 628.3,456.9 632.3,462.2 636.2,478.0 646.8,478.0 652.1,467.5 654.8,431.7 658.7,434.4 665.3,443.7 673.3,467.5 677.2,478.0 675.4,499.2 683.9,500.5 690.5,505.8 691.8,480.7 697.1,478.0 695.8,496.6 705.0,486.0 703.7,446.3 709.0,422.5 714.3,421.2 715.1,441.0 720.9,425.1 719.6,401.3 723.5,398.7 727.5,409.3 731.5,404.0 730.2,382.8 735.4,372.2 739.4,337.8 742.6,339.2 742.1,388.1 746.0,393.4 756.6,386.8 760.6,332.5 764.6,319.3 772.5,287.6 771.2,255.8 776.5,251.9 777.8,298.1 788.4,296.8 792.3,277.0 792.3,229.4 796.3,228.0 802.9,237.3 804.2,258.5 810.8,259.8 813.5,237.3 812.2,220.1 816.1,218.8 821.4,232.0 828.0,229.4 833.3,208.2 835.7,196.5 837.6,193.3 843.7,196.5 845.0,275.8 846.3,355.2 847.6,421.3 850.3,461.0 852.9,513.9 854.2,561.5 856.9,562.9 858.2,540.4 858.7,505.4 863.5,511.3 864.8,524.5 871.4,520.5 875.4,515.2 872.8,487.5 875.4,482.2 878.0,486.1 880.7,500.7 887.3,499.4 892.6,492.8 893.9,461.0 893.9,445.1 896.6,443.8 900.5,450.4 901.9,474.2 907.1,487.5 911.1,487.5 909.8,447.8 913.8,442.5 917.7,443.8 920.4,487.5 921.7,521.9 923.0,548.3 925.7,545.7 928.3,513.9 927.0,474.2 933.6,463.7 936.2,450.4 938.9,445.1 942.9,447.8 945.5,487.5 948.1,527.1 950.8,566.8 952.1,582.7 956.1,565.5 958.7,564.2 962.7,572.1 965.3,593.3 969.3,598.6 972.0,593.3 974.6,569.5 979.9,553.6 983.9,551.0 986.5,557.3 989.2,581.1 993.1,618.1 994.4,655.2 995.8,708.1 997.1,726.6 1003.7,734.6 1009.0,739.8 1010.3,708.1 1009.0,668.4 1011.6,664.4 1015.6,671.1 1019.6,649.9 1023.5,612.9 1028.8,597.0 1034.1,594.3 1039.4,591.7 1042.1,575.8 1045.5,571.9 1048.7,575.8 1051.3,602.3 1055.3,628.7 1057.9,642.0 1061.9,649.9 1060.6,686.9 1062.4,689.6 1065.9,681.6 1068.5,660.5 1073.8,649.9 1077.2,646.7 1080.4,652.5 1083.1,668.4 1087.0,692.2 1091.0,708.1 1093.7,713.4 1098.9,709.4 1102.9,716.0 1105.6,724.0 1108.2,730.6 1113.5,734.6 1114.8,775.6 1117.5,774.2 1120.1,734.6 1123.3,720.0 1126.7,734.6 1128.0,745.1 1133.3,750.4 1137.3,759.7 1142.6,761.0 1143.9,737.2 1151.9,729.3 1157.1,724.0 1158.5,705.4 1161.1,700.2 1166.4,705.4 1170.4,694.9 1174.3,673.7 1177.8,668.4 1181.0,673.7 1183.6,689.6 1186.2,721.3 1187.6,739.8 1191.5,726.6 1195.5,725.3 1198.1,734.6 1199.5,761.0 1202.1,774.2 1204.8,761.0 1208.7,721.3 1212.7,710.7 1216.7,708.1 1223.3,709.4 1228.6,716.0 1231.2,729.3 1235.2,739.8 1237.8,747.8 1243.1,750.4 1244.4,774.2 1247.1,800.7 1248.4,819.2 1250.3,821.9 1255.0,813.9 1253.7,795.4 1260.3,803.3 1265.6,787.5 1269.6,783.5 1273.2,790.5 1277.2,809.0 1279.8,824.9 1282.5,864.6 1286.5,904.2 1290.4,936.0 1294.4,962.4 1297.0,966.4 1299.2,943.9 1300.2,891.0 1301.0,851.3 1302.9,836.8 1306.3,835.4 1311.6,838.1 1314.2,854.0 1316.9,864.6 1322.2,875.1 1324.8,851.3 1328.3,835.4 1330.9,846.0 1332.0,891.0 1330.9,943.9 1330.1,996.8 1331.4,1014.0 1334.1,996.8 1336.7,943.9 1339.4,917.5 1344.7,904.2 1344.1,877.8 1348.6,875.1 1349.9,838.1 1352.6,801.1 1355.8,769.3 1359.2,742.9 1360.5,713.8 1363.7,711.1 1365.8,719.0 1367.9,756.1 1371.1,756.1 1374.3,737.6 1375.9,721.7 1380.4,720.4 1385.7,716.4 1387.0,732.3 1388.3,764.0 1393.6,762.7 1397.6,761.4 1401.5,748.1 1404.2,716.4 1406.8,687.3 1410.3,683.3 1412.9,689.9 1416.1,711.1 1418.7,732.3 1421.4,756.1 1424.6,772.0 1427.2,790.5 1429.3,806.3 1433.3,811.6 1434.6,795.8 1437.8,786.5 1441.2,793.1 1445.2,806.3 1448.4,824.9 1451.0,846.0 1453.1,864.6 1451.8,891.0 1451.0,909.5 1455.8,913.5 1461.1,914.8 1462.4,880.4 1465.8,876.5 1470.3,880.4 1473.0,896.3 1474.3,924.1 1476.9,917.5 1480.9,916.1 1483.5,930.7 1484.3,957.1 1488.8,957.1 1494.1,946.6 1497.6,941.3 1496.8,909.5 1499.4,906.9 1502.1,912.2 1504.7,936.0 1508.7,970.4 1512.6,1002.1 1516.6,1034.9 1514.0,1026.5 1517.9,1058.2 1520.6,1086.0 1524.6,1066.1 1527.7,1048.9 1530.4,1047.1 1533.8,1051.6 1535.7,1079.4 1537.2,1132.3 1542.5,1185.2 1545.2,1238.1 1547.0,1291.0 1549.7,1343.9 1552.3,1381.0 1555.0,1390.2 1555.6,1400.0 1557.9,1426.5 1560.3,1452.9 1562.2,1476.7 1567.5,1476.7 1570.9,1479.4 1572.8,1505.8 1574.1,1519.0 1576.7,1513.8 1579.4,1508.5 1584.7,1503.2 1587.8,1508.5 1589.9,1532.3 1590.5,1572.0 1588.6,1616.9 1591.3,1638.1 1595.2,1664.6 1597.9,1691.0 1598.4,1743.9 1597.9,1796.8 1599.2,1820.6 1601.9,1796.8 1604.5,1757.1 1608.5,1754.5 1611.1,1691.0 1612.4,1638.1 1615.1,1601.1 1618.3,1598.4 1621.2,1606.3 1623.0,1638.1 1624.3,1675.1 1627.0,1669.8 1632.3,1667.2 1637.6,1672.5 1640.2,1685.7 1642.9,1693.7 1646.8,1704.2 1649.5,1709.5 1650.8,1743.9 1652.1,1770.4 1653.4,1791.5 1657.4,1787.6 1658.7,1767.7 1662.7,1769.0 1665.3,1781.0 1669.3,1778.3 1672.0,1762.4 1669.3,1717.5 1672.5,1709.0 1678.6,1709.0 1676.7,1743.9 1677.8,1766.4 1682.5,1766.4 1685.2,1730.7 1683.9,1701.6 1688.4,1695.8 1692.6,1700.3 1691.0,1734.7 1695.8,1734.7 1697.1,1704.2 1700.5,1701.1 1703.7,1704.2 1706.3,1738.6 1711.6,1754.5 1714.8,1767.2 1718.3,1757.1 1720.9,1717.5 1724.9,1709.5 1728.8,1701.6 1732.3,1698.9 1734.9,1704.2 1736.8,1741.3 1740.7,1743.9 1744.7,1751.9 1747.4,1775.7 1754.0,1775.7 1757.9,1762.4 1764.6,1751.9 1767.7,1749.2 1771.2,1751.9 1773.8,1762.4 1779.1,1770.4 1787.0,1782.3 1788.4,1818.0 1793.7,1820.6 1800.3,1820.6 1804.2,1812.7 1805.6,1783.6 1809.5,1775.7 1814.8,1757.1 1819.3,1753.2 1823.7,1760.8 1826.3,1784.7 1831.6,1788.6 1835.6,1786.0 1839.5,1795.2 1842.2,1816.4 1846.1,1832.3 1851.4,1846.8 1854.1,1869.3 1855.4,1911.6 1856.2,1964.6 1856.2,2000.0 1856.7,2039.7 1859.4,2087.3 1862.5,2127.0 1865.2,2153.4 1868.6,2142.9 1869.9,2105.8 1872.1,2091.3 1874.7,2097.9 1876.6,2119.0 1879.2,2127.0 1883.2,2129.6 1885.8,2148.1 1887.9,2127.0 1891.1,2120.4 1893.8,2127.0 1895.9,2145.5 1900.4,2152.1 1904.3,2158.7 1906.5,2179.9 1907.5,2211.6 1909.6,2238.1 1913.6,2254.0 1917.6,2264.6 1921.5,2275.1 1922.9,2304.2 1924.2,2325.4 1928.1,2317.5 1930.8,2309.5 1934.8,2321.4 1937.4,2317.5 1941.4,2291.0 1944.0,2264.6 1946.7,2238.1 1949.3,2222.2 1951.4,2220.9 1953.3,2238.1 1954.6,2264.6 1956.7,2280.4 1959.4,2264.6 1961.2,2238.1 1963.9,2232.8 1966.5,2238.1 1969.2,2232.8 1970.5,2185.2 1971.8,2132.3 1973.1,2095.2 1975.2,2091.3 1977.9,2100.5 1979.7,2132.3 1985.0,2142.9 1986.9,2144.2 1989.0,2132.3 1990.3,2105.8 1989.0,2082.0 1991.6,2079.4 1995.6,2087.3 1999.6,2084.7 2004.9,2078.0 2008.8,2079.4 2011.5,2092.6 2016.8,2095.2 2021.3,2093.9 2023.4,2100.5 2024.7,2132.3 2026.0,2164.0 2028.7,2169.3 2032.6,2158.7 2037.9,2156.1 2040.6,2169.3 2043.2,2211.6 2044.6,2230.2 2048.5,2232.8 2053.8,2230.2 2055.1,2251.3 2056.5,2264.6 2061.7,2277.8 2065.7,2264.6 2068.4,2238.1 2072.3,2228.8 2076.3,2235.4 2078.9,2251.3 2081.6,2264.6 2084.2,2261.9 2086.9,2291.0 2090.8,2293.7 2096.1,2291.0 2100.1,2277.8 2101.4,2251.3 2104.1,2246.0 2108.0,2251.3 2109.4,2275.1 2112.0,2280.4 2114.7,2264.6 2116.0,2238.1 2118.6,2216.9 2121.3,2214.3 2123.9,2238.1 2125.2,2257.9 2127.9,2238.1 2130.5,2211.6 2135.8,2172.0 2139.8,2132.3 2141.1,2105.8 2142.4,2074.1 2145.1,2070.1 2147.7,2076.7 2149.8,2105.8 2153.0,2108.5 2158.3,2111.1 2161.0,2095.2 2164.1,2092.6 2167.6,2097.9 2171.5,2119.0 2174.2,2137.6 2179.5,2144.2 2184.8,2140.2 2188.7,2134.9 2191.4,2116.4 2195.3,2113.8 2200.6,2116.4 2203.3,2127.0 2207.2,2124.3 2209.9,2105.8 2212.5,2099.2 2216.5,2103.2 2221.8,2111.1 2225.8,2129.6 2228.4,2127.0 2231.1,2111.1 2235.0,2100.5 2237.7,2079.4 2239.0,2039.7 2240.3,2000.0 2241.6,1991.0 2245.6,1984.4 2250.9,1975.1 2255.4,1969.8 2258.8,1975.1 2260.2,1991.0 2264.1,2001.6 2269.4,2006.9 2272.6,2009.5 2274.7,1996.3 2278.7,1993.7 2282.6,1988.4 2285.3,1975.1 2287.9,1954.0 2290.6,1950.0 2294.6,1954.0 2298.5,1957.9 2299.8,1991.0 2302.5,2017.5 2305.7,2038.6 2307.8,2042.3 2309.1,2074.1 2313.1,2079.4 2315.7,2074.1 2318.4,2092.6 2322.3,2119.0 2326.3,2129.6 2326.3,2092.6 2327.1,2052.9 2331.6,2029.1 2335.6,2034.4 2339.5,2052.9 2342.2,2066.1 2341.4,2087.3 2344.8,2132.3 2347.5,2156.1 2351.4,2150.8 2355.4,2132.3 2358.0,2113.8 2362.0,2112.4 2363.3,2137.6 2366.0,2127.0 2369.9,2116.4 2375.2,2111.1 2376.6,2079.4 2380.0,2068.8 2379.7,2093.9 2381.0,2072.8 2383.7,2066.1 2387.6,2071.4 2390.3,2083.3 2394.2,2078.0 2399.5,2088.6 2403.5,2086.0 2408.3,2083.3 2411.4,2091.3 2414.1,2115.1 2419.4,2116.4 2425.2,2117.7 2427.3,2107.1 2429.9,2093.9 2433.9,2067.5 2436.6,2054.2 2440.5,2027.8 2443.2,2001.3 2444.5,1961.6 2445.3,1908.7 2446.3,1887.6 2448.5,1884.9 2450.6,1890.2 2452.4,1929.9 2453.8,1951.1 2459.0,1953.7 2461.2,1940.5 2462.2,1922.0 2467.0,1919.3 2473.6,1924.6 2476.2,1908.7 2480.2,1903.4 2484.2,1899.5 2486.8,1908.7 2489.5,1916.7 2492.1,1908.7 2493.4,1895.5 2496.6,1892.9 2500.1,1900.8 2502.7,1914.0 2506.1,1932.5 2509.3,1929.9 2511.4,1908.7 2513.3,1895.5 2516.7,1892.9 2519.9,1900.8 2522.5,1919.3 2525.2,1940.5 2528.4,1951.1 2531.0,1940.5 2533.1,1919.3 2535.8,1915.3 2539.7,1922.0 2543.7,1943.1 2547.7,1940.5 2549.0,1919.3 2549.0,1855.8 2547.9,1806.9 2551.6,1800.8 2555.6,1796.8 2559.0,1794.2 2561.2,1802.9 2562.8,1829.4 2563.5,1855.8 2563.5,1898.1 2564.9,1919.3 2568.8,1895.5 2572.8,1892.9 2575.4,1914.0 2578.1,1935.2 2580.7,1961.6 2583.4,1988.1 2584.7,2014.6 2586.0,2041.0 2584.7,2062.2 2590.0,2070.1 2592.6,2043.7 2595.3,2042.3 2597.9,2054.2 2600.6,2067.5 2607.2,2075.4 2610.4,2078.0 2613.8,2067.5 2615.1,2041.0 2614.6,1988.1 2615.7,1943.1 2618.3,1939.2 2621.7,1945.8 2625.7,1961.6 2628.4,1974.9 2629.7,1993.4 2635.0,1996.0 2637.6,2009.3 2641.6,2030.4 2644.2,2046.3 2645.6,2080.7 2646.3,2107.1 2647.4,2119.0 2650.1,2107.1 2652.2,2080.7 2657.5,2086.0 2661.4,2082.0 2668.0,2080.7 2673.3,2079.4 2679.9,2079.4 2681.3,2041.0 2682.6,2014.6 2683.9,1993.4 2687.9,1993.4 2691.9,1997.4 2697.1,1998.7 2698.5,1980.2 2701.1,1977.5 2702.4,1935.2 2703.0,1882.3 2706.4,1877.0 2709.0,1855.8 2711.7,1842.6 2715.1,1838.6 2717.0,1855.8 2718.3,1882.3 2722.3,1879.6 2726.2,1869.0 2730.2,1861.1 2732.9,1837.3 2735.5,1829.4 2740.8,1830.7 2746.1,1829.4 2749.5,1826.7 2750.8,1789.7 2749.7,1747.4 2752.9,1728.9 2756.9,1713.0 2760.8,1709.0 2764.8,1715.7 2766.1,1736.8 2767.5,1760.6 2770.1,1731.5 2775.4,1728.9 2778.0,1710.4 2782.0,1683.9 2784.7,1670.7 2789.9,1657.5 2793.9,1644.2 2796.6,1625.7 2799.2,1615.1 2803.2,1612.5 2807.1,1617.8 2811.1,1636.3 2815.1,1652.2 2817.7,1683.9 2819.0,1723.6 2819.6,1750.1 2818.8,1776.5 2821.0,1802.9 2825.4,1829.4 2832.1,1834.7 2833.4,1802.9 2834.7,1771.2 2837.4,1764.6 2841.3,1776.5 2844.0,1797.6 2846.6,1816.1 2850.6,1824.1 2851.9,1847.9 2854.6,1850.5 2858.5,1842.6 2862.5,1816.1 2866.5,1797.6 2869.1,1776.5 2870.4,1763.2 2874.4,1760.6 2878.4,1765.9 2881.0,1780.4 2882.9,1763.2 2882.5,1736.8 2883.1,1697.1 2883.9,1657.5 2885.2,1638.9 2890.5,1631.0 2895.8,1628.4 2897.1,1578.1 2898.4,1525.2 2899.7,1472.3 2901.1,1451.1 2903.7,1447.1 2907.7,1451.1 2910.3,1472.3 2914.3,1481.5 2916.9,1482.9 2919.6,1459.0 2918.3,1432.6 2922.2,1423.3 2927.5,1424.7 2929.6,1451.1 2932.8,1445.8 2934.1,1419.4 2931.5,1403.5 2936.8,1398.2 2942.1,1404.8 2947.4,1419.4 2950.0,1424.7 2953.4,1419.4 2955.3,1379.7 2956.6,1340.0 2954.5,1310.8 2957.9,1309.5 2963.2,1312.2 2967.7,1316.1 2971.4,1304.2 2972.5,1264.6 2973.5,1240.7 2976.7,1230.2 2980.4,1223.5 2982.5,1238.1 2984.4,1275.1 2987.0,1291.0 2989.7,1312.2 2993.7,1313.5 2996.3,1291.0 2998.9,1240.7 3001.6,1239.4 3004.2,1243.4 3005.6,1291.0 3006.9,1343.9 3006.3,1396.8 3004.2,1420.6 3008.2,1412.7 3012.2,1396.8 3014.8,1357.1 3016.1,1342.6 3018.8,1339.9 3020.6,1370.4 3021.4,1394.2 3024.9,1391.5 3028.0,1370.4 3032.0,1361.1 3035.4,1358.5 3038.1,1370.4 3039.9,1396.8 3041.8,1423.3 3042.6,1459.0 3043.9,1498.7 3042.6,1551.6 3045.2,1591.3 3047.9,1609.8 3050.5,1613.8 3053.2,1604.6 3055.8,1564.9 3057.1,1509.3 3061.1,1504.0 3063.8,1477.6 3067.7,1469.6 3071.7,1467.0 3073.0,1419.4 3074.3,1379.7 3076.2,1317.5 3077.8,1264.6 3079.9,1158.7 3081.5,1100.5 3083.1,1095.8 3084.7,1100.5 3085.4,1158.7 3086.5,1238.1 3087.8,1275.1 3092.9,1277.8 3095.5,1291.0 3098.1,1317.5 3100.8,1329.4 3106.1,1328.0 3109.5,1326.7 3112.7,1317.5 3116.7,1304.2 3118.0,1264.6 3118.5,1238.1 3121.2,1234.1 3124.6,1240.7 3127.2,1254.0 3131.2,1272.5 3133.9,1285.7 3137.8,1288.4 3139.2,1264.6 3143.1,1251.3 3147.1,1232.8 3148.4,1206.3 3151.1,1198.4 3152.9,1172.0 3155.6,1169.3 3159.0,1174.6 3161.6,1195.8 3166.9,1201.1 3169.6,1185.2 3170.9,1158.7 3172.2,1140.2 3174.9,1133.6 3177.5,1140.2 3178.8,1150.8 3182.8,1152.1 3186.8,1158.7 3188.9,1172.0 3190.7,1198.4 3192.1,1224.9 3193.4,1251.3 3196.0,1248.7 3197.4,1219.6 3200.0,1211.6 3202.6,1210.3 3205.8,1219.6 3207.9,1238.1 3209.3,1264.6 3211.9,1267.2 3214.6,1251.3 3218.5,1250.0 3222.5,1256.6 3223.8,1277.8 3225.1,1304.2 3223.3,1309.5 3227.8,1308.2 3229.1,1285.7 3233.1,1283.1 3237.0,1284.4 3238.4,1317.5 3239.7,1357.1 3239.7,1388.9 3242.3,1370.4 3243.7,1317.5 3246.3,1264.6 3248.9,1248.7 3251.6,1247.4 3253.4,1264.6 3255.0,1317.5 3256.9,1338.6 3259.5,1341.3 3261.4,1370.4 3263.0,1396.8 3266.1,1402.1 3270.1,1404.8 3272.8,1423.3 3278.0,1428.6 3280.7,1432.6 3284.7,1445.8 3287.8,1456.4 3286.0,1498.7 3287.3,1535.8 3291.3,1530.5 3293.9,1498.7 3295.2,1459.0 3300.0,1422.0 3303.5,1420.6 3306.7,1427.2 3308.3,1461.6 3309.3,1488.1 3314.1,1501.3 3318.0,1514.6 3322.5,1517.2 3324.7,1535.7 3328.6,1546.3 3333.9,1548.9 3337.9,1554.2 3340.5,1541.0 3339.2,1514.6 3340.5,1488.1 3341.9,1472.2 3344.5,1470.9 3347.1,1482.8 3351.1,1480.2 3353.8,1474.9 3351.1,1435.2 3354.3,1424.6 3356.4,1423.3 3359.0,1435.2 3360.4,1461.6 3363.0,1469.6 3369.6,1468.3 3372.3,1435.2 3371.0,1398.1 3374.9,1395.5 3380.2,1394.2 3385.5,1390.2 3388.7,1398.1 3390.8,1422.0 3392.9,1461.6 3394.8,1501.3 3398.7,1504.0 3404.0,1496.0 3409.3,1488.1 3412.0,1504.0 3414.6,1505.3 3418.6,1504.0 3422.5,1493.4 3426.0,1488.1 3429.2,1496.0 3433.1,1501.3 3437.1,1501.3 3438.9,1488.1 3441.9,1482.8 3446.3,1490.7 3450.3,1494.7 3455.6,1493.4 3460.9,1494.7 3463.5,1488.1 3464.9,1474.9 3467.5,1472.2 3471.5,1474.9 3472.8,1435.2 3474.1,1419.3 3479.4,1416.7 3484.7,1419.3 3486.0,1398.1 3487.4,1379.6 3490.0,1377.0 3493.4,1382.3 3495.3,1395.5 3500.6,1398.1 3505.9,1400.8 3511.2,1403.4 3512.5,1422.0 3516.5,1435.2 3520.4,1448.4 3521.7,1474.9 3524.4,1501.3 3529.7,1502.6 3533.7,1501.3 3537.6,1488.1 3538.9,1477.5 3542.9,1482.8 3548.2,1485.4 3553.5,1477.5 3557.5,1469.6 3558.8,1408.7 3560.1,1369.0 3561.4,1342.6 3566.7,1316.1 3570.7,1289.7 3572.0,1263.2 3576.0,1260.1 3581.3,1252.1 3583.9,1238.9 3589.2,1220.4 3591.9,1193.9 3593.2,1154.2 3594.5,1127.8 3598.5,1117.2 3603.8,1111.9 3607.7,1101.3 3609.0,1074.9 3610.4,1035.2 3612.5,998.1 3615.7,992.9 3620.4,990.2 3623.6,1003.4 3626.2,1035.2 3628.9,1061.6 3631.5,1082.8 3635.5,1074.9 3638.1,1048.4 3640.8,1022.0 3641.6,982.3 3640.8,953.2 3644.8,950.5 3648.7,953.2 3651.4,937.3 3654.0,924.1 3655.3,902.9 3656.7,876.5 3658.0,863.2 3660.6,855.3 3660.9,859.2 3664.7,816.6 3671.1,814.9 3676.2,813.2 3677.2,765.5 3681.3,762.6 3687.3,760.4 3687.1,731.3 3689.2,705.1 3691.4,665.7 3693.6,646.0 3696.5,642.7 3700.2,665.7 3703.5,705.1 3707.0,722.6 3710.0,829.8 3713.5,726.9 3717.5,740.1 3721.0,797.0 3724.5,800.3 3727.5,631.7 3731.0,635.0 3733.0,753.2 3734.6,840.8 3738.5,849.5 3741.1,783.8 3745.1,783.8 3747.2,868.1 3750.5,862.6 3752.7,775.1 3755.6,659.1 3759.3,655.8"/>
</g>
</svg></body></html>
